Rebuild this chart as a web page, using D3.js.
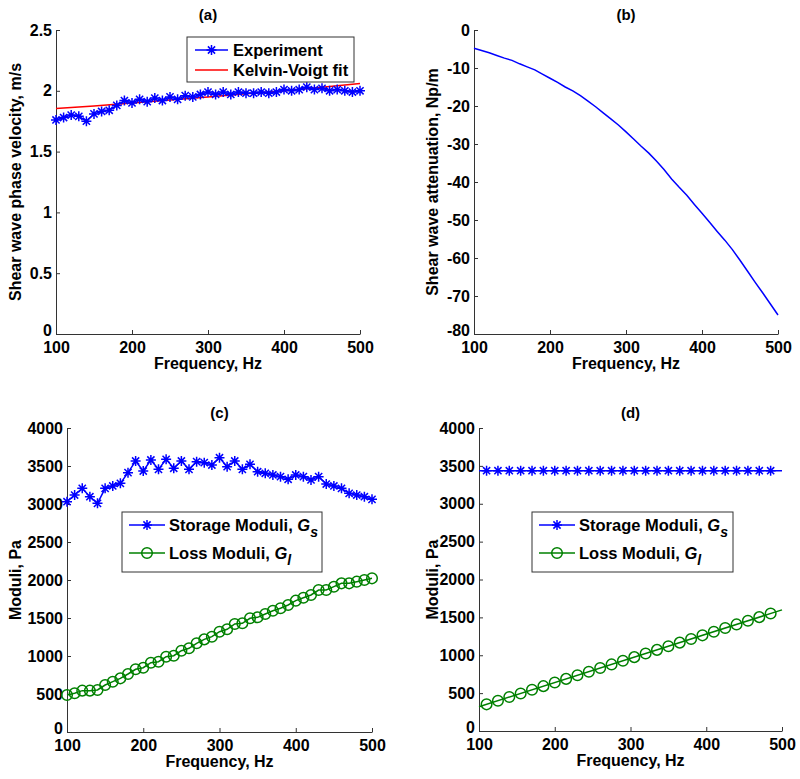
<!DOCTYPE html>
<html><head><meta charset="utf-8">
<script src="https://cdn.jsdelivr.net/npm/d3@7"></script>
<style>
body{margin:0;background:#fff;}
svg text{font-family:"Liberation Sans",Arial,Helvetica,sans-serif;font-weight:bold;fill:#000;}
</style></head>
<body><svg id="c" width="800" height="779"></svg>
<script>
// ---------- data ----------
const freq = [100,110,120,130,140,150,160,170,180,190,200,210,220,230,240,250,260,270,280,290,300,310,320,330,340,350,360,370,380,390,400,410,420,430,440,450,460,470,480,490,500];
const velExperiment = [1.76,1.78,1.80,1.79,1.75,1.81,1.83,1.84,1.88,1.92,1.90,1.93,1.91,1.94,1.92,1.95,1.93,1.96,1.95,1.97,1.99,1.97,1.99,1.97,1.99,1.98,1.98,1.99,1.98,1.99,2.01,2.00,2.01,2.03,2.01,2.02,2.00,2.01,2.00,1.99,2.00];
const kvFreq = [100,150,200,250,300,350,400,450,500];
const kvVelocity = [1.855,1.875,1.9,1.925,1.95,1.975,2.0,2.03,2.06];
const attenuation = [-4.8,-5.4,-6.0,-6.7,-7.4,-8.0,-8.9,-9.7,-10.5,-11.6,-12.7,-13.8,-15.0,-16.0,-17.3,-18.7,-20.2,-21.8,-23.4,-25.0,-26.8,-28.7,-30.6,-32.4,-34.5,-36.7,-39.2,-41.4,-43.5,-45.9,-48.2,-50.6,-53.0,-55.3,-57.8,-60.6,-63.5,-66.4,-69.2,-72.1,-75.0];
const storageC = [3030,3118,3206,3096,3009,3206,3237,3272,3412,3566,3434,3579,3456,3588,3470,3566,3456,3557,3544,3513,3609,3491,3566,3456,3522,3425,3404,3382,3360,3325,3382,3360,3316,3360,3263,3237,3206,3140,3118,3096,3061];
const lossC = [487,509,544,544,553,618,662,706,763,825,846,912,925,991,1004,1070,1101,1167,1219,1254,1320,1351,1421,1430,1496,1509,1553,1596,1628,1671,1728,1767,1803,1868,1868,1912,1956,1956,1978,2000,2022];
const lineFreqD = [100,500];
const storageDLine = [3436,3436];
const lossDLine = [321,1599];
const markFreqD = [110,125,140,155,170,185,200,215,230,245,260,275,290,305,320,335,350,365,380,395,410,425,440,455,470,485];
const storageDMarks = [3436,3436,3436,3436,3436,3436,3436,3436,3436,3436,3436,3436,3436,3436,3436,3436,3436,3436,3436,3436,3436,3436,3436,3436,3436,3436];
const lossDMarks = [352,400,448,496,544,592,640,688,735,783,831,879,927,975,1023,1071,1119,1167,1215,1263,1311,1359,1407,1455,1503,1551];
const xTicks = [100,200,300,400,500];
const yTicksA = [0,0.5,1,1.5,2,2.5];
const yTicksB = [0,-10,-20,-30,-40,-50,-60,-70,-80];
const yTicksCD = [0,500,1000,1500,2000,2500,3000,3500,4000];

// ---------- drawing ----------
const svg = d3.select("#c");
const FS = 16;
const BLUE="#0000ff", RED="#ff0000", GREEN="#008000";

function starPath(s){
  const d=s*0.72;
  return `M${-s},0L${s},0M0,${-s}L0,${s}M${-d},${-d}L${d},${d}M${-d},${d}L${d},${-d}`;
}

function panel(o){
  const g = svg.append("g");
  const x = d3.scaleLinear().domain([100,500]).range([o.x0,o.x1]);
  const y = d3.scaleLinear().domain(o.ydom).range([o.y1,o.y0]);
  const xa = g.append("g").attr("transform",`translate(0,${o.y1})`)
    .call(d3.axisBottom(x).tickValues(xTicks).tickSizeInner(-4).tickSizeOuter(0).tickPadding(8).tickFormat(d=>String(d)));
  const ya = g.append("g").attr("transform",`translate(${o.x0},0)`)
    .call(d3.axisLeft(y).tickValues(o.yticks).tickSizeInner(-4).tickSizeOuter(0).tickPadding(4).tickFormat(d=>String(d)));
  [xa,ya].forEach(a=>{
    a.selectAll("path,line").attr("stroke","#333").attr("stroke-width",1);
    a.selectAll("text").attr("font-size",FS).attr("font-family","Liberation Sans, Arial, sans-serif").attr("font-weight","bold").attr("fill","#000");
  });
  xa.selectAll("text").attr("dy","0.71em");
  // lowest y tick label sits slightly above the corner, as in the reference
  ya.selectAll("text").filter(d=>d===o.ydom[0]).attr("dy","0.1em");
  g.append("text").attr("x",(o.x0+o.x1)/2).attr("y",o.y0-10).attr("text-anchor","middle").attr("font-size",FS-1).text(o.title);
  g.append("text").attr("x",(o.x0+o.x1)/2).attr("y",o.y1+35).attr("text-anchor","middle").attr("font-size",FS).text("Frequency, Hz");
  g.append("text").attr("transform",`translate(${o.ylx},${(o.y0+o.y1)/2}) rotate(-90)`).attr("dy","0.36em").attr("text-anchor","middle").attr("font-size",FS).text(o.ylabel);
  return {g,x,y};
}

function line(p,xs,ys,color){
  p.g.append("path").datum(xs.map((d,i)=>[d,ys[i]]))
    .attr("d",d3.line().x(d=>p.x(d[0])).y(d=>p.y(d[1])))
    .attr("fill","none").attr("stroke",color).attr("stroke-width",1.5);
}
function stars(p,xs,ys,color){
  p.g.append("g").selectAll("path").data(xs.map((d,i)=>[d,ys[i]])).join("path")
    .attr("transform",d=>`translate(${p.x(d[0])},${p.y(d[1])})`)
    .attr("d",starPath(5)).attr("fill","none").attr("stroke",color).attr("stroke-width",1.5);
}
function circles(p,xs,ys,color){
  p.g.append("g").selectAll("circle").data(xs.map((d,i)=>[d,ys[i]])).join("circle")
    .attr("cx",d=>p.x(d[0])).attr("cy",d=>p.y(d[1])).attr("r",5.3)
    .attr("fill","none").attr("stroke",color).attr("stroke-width",1.5);
}

function legend(g,bx,by,bw,bh,items,sx0,sx1,tx){
  g.append("rect").attr("x",bx).attr("y",by).attr("width",bw).attr("height",bh)
    .attr("fill","#fff").attr("stroke","#333").attr("stroke-width",1);
  items.forEach(it=>{
    g.append("line").attr("x1",sx0).attr("x2",sx1).attr("y1",it.cy).attr("y2",it.cy)
      .attr("stroke",it.color).attr("stroke-width",1.5);
    const mx=(sx0+sx1)/2;
    if(it.marker==="star") g.append("path").attr("transform",`translate(${mx},${it.cy})`).attr("d",starPath(5)).attr("fill","none").attr("stroke",it.color).attr("stroke-width",1.5);
    if(it.marker==="circle") g.append("circle").attr("cx",mx).attr("cy",it.cy).attr("r",5.3).attr("fill","none").attr("stroke",it.color).attr("stroke-width",1.5);
    const t=g.append("text").attr("x",tx).attr("y",it.cy).attr("dy","0.36em").attr("font-size",FS+0.5);
    t.append("tspan").text(it.text);
    if(it.sym){
      t.append("tspan").attr("font-style","italic").text(it.sym);
      t.append("tspan").attr("font-style","italic").attr("font-size",FS-2).attr("dy","0.45em").text(it.sub);
    }
  });
}

// (a)
const pa = panel({x0:56,x1:360,y0:30,y1:334,ydom:[0,2.5],yticks:yTicksA,title:"(a)",ylabel:"Shear wave phase velocity, m/s",ylx:15});
line(pa,kvFreq,kvVelocity,RED);
line(pa,freq,velExperiment,BLUE);
stars(pa,freq,velExperiment,BLUE);
legend(pa.g,187,37,167,45,[{cy:50,color:BLUE,marker:"star",text:"Experiment"},{cy:70,color:RED,text:"Kelvin-Voigt fit"}],195,228,233);

// (b)
const pb = panel({x0:474,x1:778,y0:30,y1:334,ydom:[-80,0],yticks:yTicksB,title:"(b)",ylabel:"Shear wave attenuation, Np/m",ylx:432});
line(pb,freq,attenuation,BLUE);

// (c)
const pc = panel({x0:67,x1:372,y0:428,y1:732,ydom:[0,4000],yticks:yTicksCD,title:"(c)",ylabel:"Moduli, Pa",ylx:15});
line(pc,freq,storageC,BLUE);
stars(pc,freq,storageC,BLUE);
line(pc,freq,lossC,GREEN);
circles(pc,freq,lossC,GREEN);
legend(pc.g,122,512,200,60,[{cy:525,color:BLUE,marker:"star",text:"Storage Moduli, ",sym:"G",sub:"s"},{cy:553,color:GREEN,marker:"circle",text:"Loss Moduli, ",sym:"G",sub:"l"}],129,165,169);

// (d)
const pd = panel({x0:479,x1:782,y0:428,y1:731,ydom:[0,4000],yticks:yTicksCD,title:"(d)",ylabel:"Moduli, Pa",ylx:432});
line(pd,lineFreqD,storageDLine,BLUE);
stars(pd,markFreqD,storageDMarks,BLUE);
line(pd,lineFreqD,lossDLine,GREEN);
circles(pd,markFreqD,lossDMarks,GREEN);
legend(pd.g,532,512,201,60,[{cy:525,color:BLUE,marker:"star",text:"Storage Moduli, ",sym:"G",sub:"s"},{cy:553,color:GREEN,marker:"circle",text:"Loss Moduli, ",sym:"G",sub:"l"}],539,575,579);
</script></body></html>
